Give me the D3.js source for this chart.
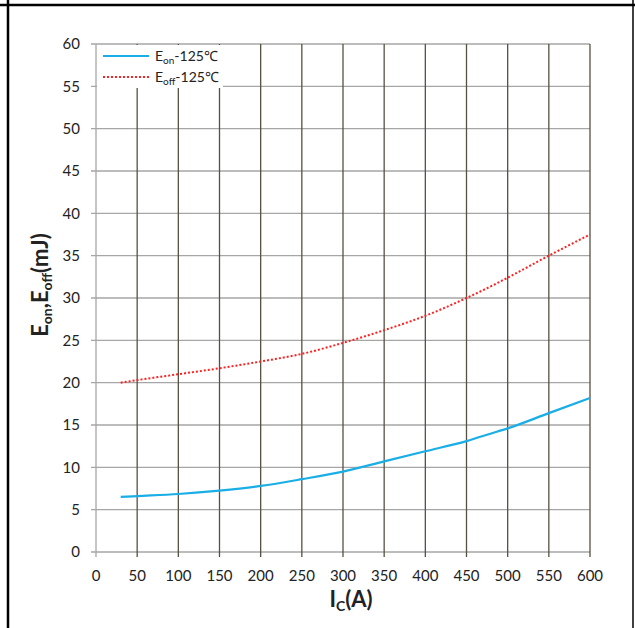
<!DOCTYPE html>
<html>
<head>
<meta charset="utf-8">
<script src="https://cdn.jsdelivr.net/npm/d3@7"></script>
<style>
  body { margin: 0; background: #fff; }
  svg { display: block; font-family: Lato, "Open Sans", sans-serif; }
</style>
</head>
<body>
<svg id="chart" width="635" height="628"></svg>
<script>
const currents = [30, 50, 100, 150, 200, 250, 300, 350, 400, 450, 480, 500, 550, 600]
const eon = [6.5, 6.6, 6.85, 7.25, 7.8, 8.6, 9.5, 10.7, 11.9, 13.1, 14.0, 14.6, 16.4, 18.2]
const eoff = [20.0, 20.3, 21.0, 21.7, 22.5, 23.4, 24.7, 26.2, 27.9, 30.0, 31.4, 32.4, 35.0, 37.5]
const xTicks = d3.range(0, 601, 50)
const yTicks = d3.range(0, 61, 5)

const svg = d3.select("#chart")
const margin = { left: 96, right: 45, top: 44, bottom: 76 }
const width = 635, height = 628

const x = d3.scaleLinear().domain([0, 600]).range([margin.left, width - margin.right])
const y = d3.scaleLinear().domain([0, 60]).range([height - margin.bottom, margin.top])

// outer frame of the page
svg.append("line").attr("x1", 0).attr("x2", width).attr("y1", 5).attr("y2", 5).attr("stroke", "#000").attr("stroke-width", 2.5)
svg.append("line").attr("x1", 8).attr("x2", 8).attr("y1", 0).attr("y2", height).attr("stroke", "#000").attr("stroke-width", 2.5)
svg.append("line").attr("x1", 633).attr("x2", 633).attr("y1", 0).attr("y2", height).attr("stroke", "#000").attr("stroke-width", 1.5)

// horizontal grid (gray) with ticks to the left
svg.append("g")
  .selectAll("line")
  .data(yTicks)
  .join("line")
  .attr("x1", x(0) - 5).attr("x2", x(600))
  .attr("y1", d => y(d)).attr("y2", d => y(d))
  .attr("stroke", "#a6a6a6").attr("stroke-width", 1.3)

// vertical grid (dark) with ticks below
svg.append("g")
  .selectAll("line")
  .data(xTicks)
  .join("line")
  .attr("x1", d => x(d)).attr("x2", d => x(d))
  .attr("y1", y(60)).attr("y2", y(0) + 5)
  .attr("stroke", d => d === 0 ? "#a6a6a6" : "#575142").attr("stroke-width", 1.3)

// y tick labels
svg.append("g")
  .selectAll("text")
  .data(yTicks)
  .join("text")
  .attr("x", x(0) - 16)
  .attr("y", d => y(d))
  .attr("dy", "0.35em")
  .attr("text-anchor", "end")
  .attr("font-size", 15)
  .attr("fill", "#222")
  .text(d => d)

// x tick labels
svg.append("g")
  .selectAll("text")
  .data(xTicks)
  .join("text")
  .attr("x", d => x(d))
  .attr("y", y(0) + 24)
  .attr("dy", "0.35em")
  .attr("text-anchor", "middle")
  .attr("font-size", 15)
  .attr("fill", "#222")
  .text(d => d)

const line = (vals) => d3.line()
  .curve(d3.curveMonotoneX)
  .x((d, i) => x(currents[i]))
  .y(d => y(d))(vals)

// legend box (covers grid)
svg.append("rect")
  .attr("x", x(0) + 1).attr("y", y(60) + 1)
  .attr("width", 126).attr("height", 43)
  .attr("fill", "#fff")

svg.append("path")
  .attr("d", line(eoff))
  .attr("fill", "none")
  .attr("stroke", "#ff2020")
  .attr("stroke-width", 2)
  .attr("stroke-dasharray", "2,2")

svg.append("path")
  .attr("d", line(eon))
  .attr("fill", "none")
  .attr("stroke", "#1aaee6")
  .attr("stroke-width", 2.2)

// legend entries
const legend = svg.append("g").attr("font-size", 14).attr("fill", "#222")
legend.append("line").attr("x1", 103).attr("x2", 149).attr("y1", 56).attr("y2", 56)
  .attr("stroke", "#1aaee6").attr("stroke-width", 2.2)
legend.append("line").attr("x1", 103).attr("x2", 149).attr("y1", 77).attr("y2", 77)
  .attr("stroke", "#ff2020").attr("stroke-width", 2).attr("stroke-dasharray", "2,2")
const t1 = legend.append("text").attr("x", 155).attr("y", 56).attr("dy", "0.35em")
t1.append("tspan").text("E")
t1.append("tspan").attr("font-size", 10).attr("dy", 3).text("on")
t1.append("tspan").attr("dy", -3).text("-125℃")
const t2 = legend.append("text").attr("x", 155).attr("y", 77).attr("dy", "0.35em")
t2.append("tspan").text("E")
t2.append("tspan").attr("font-size", 10).attr("dy", 3).text("off")
t2.append("tspan").attr("dy", -3).text("-125℃")

// x axis title
const xt = svg.append("text")
  .attr("x", 351).attr("y", 607)
  .attr("text-anchor", "middle")
  .attr("font-size", 22).attr("font-weight", "bold").attr("fill", "#222")
xt.append("tspan").text("I")
xt.append("tspan").attr("font-size", 14).attr("dy", 4).text("C")
xt.append("tspan").attr("dy", -4).text("(A)")

// y axis title
const yt = svg.append("text")
  .attr("transform", "translate(48,285) rotate(-90)")
  .attr("text-anchor", "middle")
  .attr("font-size", 22).attr("font-weight", "bold").attr("fill", "#222")
yt.append("tspan").text("E")
yt.append("tspan").attr("font-size", 14).attr("dy", 4).text("on")
yt.append("tspan").attr("dy", -4).text(",E")
yt.append("tspan").attr("font-size", 14).attr("dy", 4).text("off")
yt.append("tspan").attr("dy", -4).text("(mJ)")
</script>
</body>
</html>
